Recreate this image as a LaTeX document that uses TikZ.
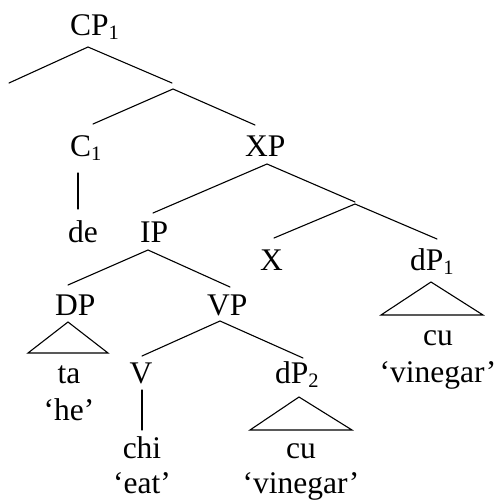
\documentclass[tikz,border=0pt]{standalone}
\usepackage{fontspec}
\setmainfont{Liberation Serif}
\newcommand{\sbs}[1]{\raisebox{-4pt}{\fontsize{20.5}{20.5}\selectfont #1}}
\begin{document}
\begin{tikzpicture}[x=1pt,y=-1pt,
  lbl/.style={inner sep=0pt, anchor=base, font=\fontsize{31.5}{36}\selectfont},
  lblw/.style={lbl, anchor=base west},
  two/.style={lbl, align=center},
  br/.style={line width=1.1pt, line cap=round}]
\useasboundingbox (0,0) rectangle (496,501);
% labels
\node[lblw] (CP) at (70,35) {CP\sbs{1}};
\node[lblw] (C1) at (70,156) {C\sbs{1}};
\node[lblw] (XP) at (245,156) {XP};
\node[lblw] (de) at (68,242) {de};
\node[lblw] (IP) at (140,242) {IP};
\node[lblw] (X) at (260,270) {X};
\node[lblw] (dP1) at (410,270) {dP\sbs{1}};
\node[lblw] (DP) at (55,315) {DP};
\node[lblw] (VP) at (207,315) {VP};
\node[two, font=\fontsize{31.5}{37}\selectfont] (ta) at (69,420) {ta\\‘he’};
\node[lbl] (V) at (141,383) {V};
\node[lblw] (dP2) at (275,383) {dP\sbs{2}};
\node[two, font=\fontsize{31.5}{37}\selectfont] (cu1) at (438,382) {cu\\‘vinegar’};
\node[two, font=\fontsize{31.5}{35}\selectfont] (chi) at (142,493) {chi\\‘eat’};
\node[two, font=\fontsize{31.5}{35}\selectfont] (cu2) at (301,493) {cu\\‘vinegar’};
% branch points
\coordinate (cpA) at (88,47);
\coordinate (cpL) at (9,83);
\coordinate (cpR) at (172,83);
\coordinate (nA) at (173,89);
\coordinate (nL) at (93,124);
\coordinate (nR) at (255,125);
\coordinate (cT) at (78,173);
\coordinate (cB) at (78,209);
\coordinate (xA) at (267,164);
\coordinate (xL) at (153,213);
\coordinate (xR) at (355,202);
\coordinate (mA) at (355,204);
\coordinate (mL) at (274,238);
\coordinate (mR) at (437,239);
\coordinate (iA) at (148,250);
\coordinate (iL) at (68,285);
\coordinate (iR) at (230,287);
\coordinate (dA) at (68,322);
\coordinate (dL) at (28,353);
\coordinate (dR) at (108,353);
\coordinate (vA) at (220,321);
\coordinate (vL) at (142,356);
\coordinate (vR) at (303,358);
\coordinate (vT) at (142,390);
\coordinate (vB) at (142,430);
\coordinate (tA) at (299,397);
\coordinate (tL) at (250,430);
\coordinate (tR) at (352,430);
\coordinate (sA) at (431,282);
\coordinate (sL) at (381,315);
\coordinate (sR) at (483,315);
% branches
\draw[br] (cpL) -- (cpA) -- (cpR);
\draw[br] (nL) -- (nA) -- (nR);
\draw[br] (cT) -- (cB);
\draw[br] (xL) -- (xA) -- (xR);
\draw[br] (mL) -- (mA) -- (mR);
\draw[br] (iL) -- (iA) -- (iR);
\draw[br] (dA) -- (dL) -- (dR) -- cycle;
\draw[br] (vL) -- (vA) -- (vR);
\draw[br] (vT) -- (vB);
\draw[br] (tA) -- (tL) -- (tR) -- cycle;
\draw[br] (sA) -- (sL) -- (sR) -- cycle;
\end{tikzpicture}
\end{document}
